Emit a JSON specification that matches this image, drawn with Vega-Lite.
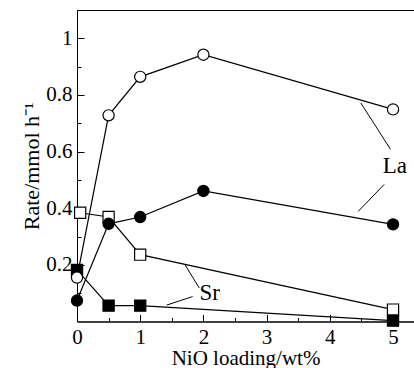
{
  "$schema": "https://vega.github.io/schema/vega-lite/v6.json",
  "autosize": "none",
  "width": 337,
  "height": 311.5,
  "padding": {"left": 77, "top": 10, "right": 0, "bottom": 46.5},
  "background": "white",
  "config": {
    "view": {"stroke": "black", "strokeWidth": 1},
    "font": "Liberation Serif"
  },
  "datasets": {
    "pts": [
      {"series": "Sr open", "x": 0.05, "y": 0.384},
      {"series": "Sr open", "x": 0.5, "y": 0.369},
      {"series": "Sr open", "x": 1, "y": 0.236},
      {"series": "Sr open", "x": 5, "y": 0.042},
      {"series": "Sr filled", "x": 0, "y": 0.182},
      {"series": "Sr filled", "x": 0.5, "y": 0.056},
      {"series": "Sr filled", "x": 1, "y": 0.056},
      {"series": "Sr filled", "x": 5, "y": 0.003},
      {"series": "La filled", "x": 0, "y": 0.074},
      {"series": "La filled", "x": 0.5, "y": 0.345},
      {"series": "La filled", "x": 1, "y": 0.369},
      {"series": "La filled", "x": 2, "y": 0.461},
      {"series": "La filled", "x": 5, "y": 0.343},
      {"series": "La open", "x": 0, "y": 0.155},
      {"series": "La open", "x": 0.5, "y": 0.728},
      {"series": "La open", "x": 1, "y": 0.864},
      {"series": "La open", "x": 2, "y": 0.942},
      {"series": "La open", "x": 5, "y": 0.749}
    ],
    "pointers": [
      {"x": 4.96, "y": 0.608, "x2": 4.49, "y2": 0.772},
      {"x": 4.86, "y": 0.484, "x2": 4.45, "y2": 0.389},
      {"x": 1.935, "y": 0.118, "x2": 1.71, "y2": 0.2},
      {"x": 1.83, "y": 0.088, "x2": 1.42, "y2": 0.058}
    ],
    "labels": [
      {"x": 5.03, "y": 0.548, "label": "La"},
      {"x": 2.1, "y": 0.1, "label": "Sr"}
    ]
  },
  "resolve": {"axis": {"x": "independent", "y": "independent"}},
  "layer": [
    {
      "data": {"name": "pts"},
      "mark": {"type": "line", "color": "black", "strokeWidth": 1.2},
      "encoding": {
        "x": {
          "field": "x", "type": "quantitative",
          "scale": {"domain": [0, 5.332], "nice": false, "zero": false},
          "axis": {
            "orient": "bottom",
            "title": "NiO loading/wt%",
            "values": [0, 1, 2, 3, 4, 5],
            "format": "~g",
            "tickSize": -7,
            "labelPadding": 12,
            "labelFlush": false,
            "labelOverlap": false,
            "grid": false,
            "domainColor": "black", "tickColor": "black",
            "labelFont": "Liberation Serif", "labelFontSize": 21, "labelColor": "black",
            "titleFont": "Liberation Serif", "titleFontSize": 21, "titleFontWeight": "normal", "titleColor": "black",
            "titlePadding": 0
          }
        },
        "y": {
          "field": "y", "type": "quantitative",
          "scale": {"domain": [0, 1.1], "nice": false},
          "axis": {
            "orient": "left",
            "title": "Rate/mmol h⁻¹",
            "values": [0.2, 0.4, 0.6, 0.8, 1],
            "format": "~g",
            "tickSize": -7,
            "labelPadding": 12,
            "labelFlush": false,
            "labelOverlap": false,
            "grid": false,
            "domainColor": "black", "tickColor": "black",
            "labelFont": "Liberation Serif", "labelFontSize": 21, "labelColor": "black",
            "titleFont": "Liberation Serif", "titleFontSize": 22, "titleFontWeight": "normal", "titleColor": "black",
            "titlePadding": 2
          }
        },
        "detail": {"field": "series"}
      }
    },
    {
      "data": {"name": "pointers"},
      "mark": {"type": "rule", "color": "black", "strokeWidth": 1},
      "encoding": {
        "x": {"field": "x", "type": "quantitative", "axis": null},
        "y": {"field": "y", "type": "quantitative", "axis": null},
        "x2": {"field": "x2"},
        "y2": {"field": "y2"}
      }
    },
    {
      "data": {"name": "pts"},
      "mark": {"type": "point", "filled": true, "opacity": 1, "stroke": "black", "strokeWidth": 1.2},
      "encoding": {
        "x": {"field": "x", "type": "quantitative",
          "axis": {"orient": "bottom", "title": null, "values": [0.5, 1.5, 2.5, 3.5, 4.5], "labels": false, "domain": false, "grid": false, "tickSize": -4, "tickColor": "black"}},
        "y": {"field": "y", "type": "quantitative",
          "axis": {"orient": "left", "title": null, "values": [0.1, 0.3, 0.5, 0.7, 0.9], "labels": false, "domain": false, "grid": false, "tickSize": -4, "tickColor": "black"}},
        "shape": {"field": "series", "type": "nominal", "legend": null,
          "scale": {"domain": ["La open", "La filled", "Sr open", "Sr filled"], "range": ["circle", "circle", "square", "square"]}},
        "fill": {"field": "series", "type": "nominal", "legend": null,
          "scale": {"domain": ["La open", "La filled", "Sr open", "Sr filled"], "range": ["white", "black", "white", "black"]}},
        "size": {"field": "series", "type": "nominal", "legend": null,
          "scale": {"domain": ["La open", "La filled", "Sr open", "Sr filled"], "range": [125, 125, 80, 80]}}
      }
    },
    {
      "data": {"name": "labels"},
      "mark": {"type": "text", "font": "Liberation Serif", "fontSize": 23, "color": "black", "align": "center", "baseline": "middle"},
      "encoding": {
        "x": {"field": "x", "type": "quantitative", "axis": null},
        "y": {"field": "y", "type": "quantitative", "axis": null},
        "text": {"field": "label"}
      }
    }
  ]
}
